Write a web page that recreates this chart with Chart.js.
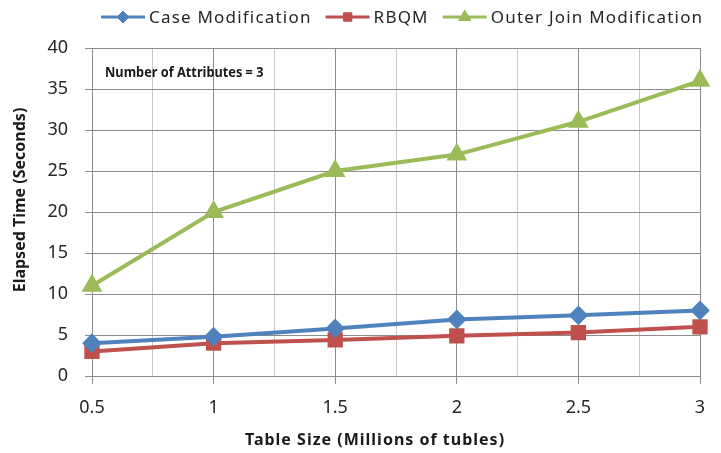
<!DOCTYPE html>
<html>
<head>
<meta charset="utf-8">
<script src="https://cdn.jsdelivr.net/npm/chart.js@4.4.1/dist/chart.umd.min.js"></script>
<style>
  body { margin: 0; background: #fff; }
  #wrap { width: 721px; height: 453px; }
</style>
</head>
<body>
<div id="wrap"><canvas id="elapsedChart" width="721" height="453"></canvas></div>
<script>
const tableSizes = [0.5, 1, 1.5, 2, 2.5, 3];
const xTickLabels = ['0.5', '1', '1.5', '2', '2.5', '3'];
const caseModification = [4, 4.8, 5.8, 6.9, 7.4, 8];
const rbqm = [3, 4, 4.4, 4.9, 5.3, 6];
const outerJoinModification = [11, 20, 25, 27, 31, 36];
const seriesNames = ['Case Modification', 'RBQM', 'Outer Join Modification'];
const annotationText = 'Number of Attributes = 3';
const xTitle = 'Table Size (Millions of tubles)';
const yTitle = 'Elapsed Time (Seconds)';

const textColor = '#262626';
const fontFace = '"Noto Sans", "Open Sans", sans-serif';

function toPoints(values) {
    return values.map((v, i) => ({ x: tableSizes[i], y: v }));
}

function isMajor(value) {
    return xTickLabels.includes(String(value));
}

// legend drawn by hand so each entry shows line + marker like the original
const legendPlugin = {
    id: 'lineLegend',
    afterDraw(chart) {
        const ctx = chart.ctx;
        ctx.save();
        ctx.font = '17px ' + fontFace;
        ctx.letterSpacing = '1.2px';
        ctx.textBaseline = 'middle';
        let x = 101;
        const y = 17;
        chart.data.datasets.forEach(ds => {
            ctx.strokeStyle = ds.borderColor;
            ctx.lineWidth = 3;
            ctx.beginPath();
            ctx.moveTo(x, y);
            ctx.lineTo(x + 44, y);
            ctx.stroke();
            ctx.fillStyle = ds.backgroundColor;
            ctx.strokeStyle = ds.backgroundColor;
            ctx.lineWidth = 1;
            Chart.helpers.drawPoint(ctx, {
                pointStyle: ds.pointStyle,
                radius: ds.pointStyle === 'triangle' ? 7 : 6,
                borderWidth: 1,
                rotation: 0
            }, x + 22, y);
            ctx.fillStyle = textColor;
            ctx.fillText(ds.label, x + 48, y + 1);
            x += 48 + ctx.measureText(ds.label).width + 14;
        });
        ctx.restore();
    }
};

const textPlugin = {
    id: 'chartTexts',
    afterDraw(chart) {
        const ctx = chart.ctx;
        const area = chart.chartArea;
        ctx.save();
        ctx.fillStyle = '#1a1a1a';
        ctx.textBaseline = 'middle';

        // narrow bold note inside the plot
        ctx.save();
        ctx.translate(area.left + 13, area.top + 25);
        ctx.scale(0.85, 1);
        ctx.font = 'bold 15px ' + fontFace;
        ctx.fillText(annotationText, 0, 0);
        ctx.restore();

        ctx.textAlign = 'center';
        ctx.font = 'bold 16px ' + fontFace;
        ctx.letterSpacing = '1px';
        ctx.fillText(xTitle, 375, 440);

        ctx.letterSpacing = '0px';
        ctx.translate(20, 200);
        ctx.rotate(-Math.PI / 2);
        ctx.fillText(yTitle, 0, 0);
        ctx.restore();
    }
};

const ctx = document.getElementById('elapsedChart').getContext('2d');
new Chart(ctx, {
    type: 'line',
    data: {
        datasets: [{
            label: seriesNames[0],
            data: toPoints(caseModification),
            borderColor: '#4F81BD',
            backgroundColor: '#4F81BD',
            pointStyle: 'rectRot',
            pointRadius: 7,
            borderWidth: 4
        }, {
            label: seriesNames[1],
            data: toPoints(rbqm),
            borderColor: '#C0504D',
            backgroundColor: '#C0504D',
            pointStyle: 'rect',
            pointRadius: 8,
            borderWidth: 4
        }, {
            label: seriesNames[2],
            data: toPoints(outerJoinModification),
            borderColor: '#9BBB59',
            backgroundColor: '#9BBB59',
            pointStyle: 'triangle',
            pointRadius: 8,
            borderWidth: 4
        }]
    },
    options: {
        responsive: false,
        animation: false,
        clip: false,
        layout: { padding: { top: 48, right: 21, left: 0, bottom: 0 } },
        plugins: {
            legend: { display: false },
            tooltip: { enabled: false }
        },
        scales: {
            x: {
                type: 'linear',
                min: 0.5,
                max: 3,
                afterFit: scale => { scale.height = 77; },
                afterBuildTicks: scale => {
                    const ticks = [];
                    for (let v = 0.5; v <= 3.001; v += 0.25) ticks.push({ value: v });
                    scale.ticks = ticks;
                },
                grid: {
                    color: c => isMajor(c.tick && c.tick.value) ? '#8c8c8c' : '#c8c8c8',
                    tickColor: c => isMajor(c.tick && c.tick.value) ? '#8c8c8c' : 'rgba(0,0,0,0)',
                    tickLength: 8,
                    lineWidth: 1
                },
                border: { color: '#8c8c8c' },
                ticks: {
                    autoSkip: false,
                    maxRotation: 0,
                    padding: 13,
                    color: textColor,
                    font: { family: fontFace, size: 18 },
                    callback: value => isMajor(value) ? String(value) : ''
                }
            },
            y: {
                min: 0,
                max: 40,
                afterFit: scale => { scale.width = 92; },
                grid: {
                    color: '#8c8c8c',
                    tickColor: '#8c8c8c',
                    tickLength: 7,
                    lineWidth: 1
                },
                border: { color: '#8c8c8c' },
                ticks: {
                    stepSize: 5,
                    padding: 17,
                    color: textColor,
                    font: { family: fontFace, size: 18 }
                }
            }
        }
    },
    plugins: [legendPlugin, textPlugin]
});
</script>
</body>
</html>
